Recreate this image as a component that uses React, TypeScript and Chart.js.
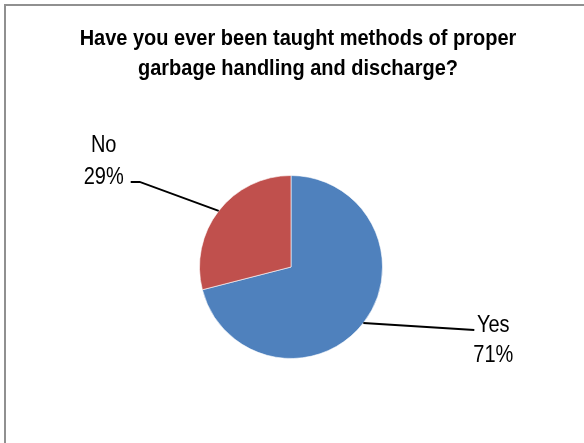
import React, { useEffect, useRef } from "react";
import { Chart, registerables } from "chart.js";

Chart.register(...registerables);

const TITLE_LINES = [
  "Have you ever been taught methods of proper",
  "garbage handling and discharge?",
];
const CATEGORIES = ["Yes", "No"];
const VALUES = [71, 29];
const COLORS = ["#4F81BD", "#C0504D"];

const FONT = '"Liberation Sans", Arial, sans-serif';

// label/leader styling per slice (layout only, relative to the slice's outer mid point)
const LEADERS = [
  { path: [[111, 7]], textX: 19, nameDy: 2, pctDy: 32 },
  { path: [[-79, -29], [-88, -29]], textX: -27, nameDy: -30, pctDy: 2 },
];

function tallText(ctx: any, text: string, x: number, y: number, sy: number) {
  ctx.save();
  ctx.translate(x, y);
  ctx.scale(1, sy);
  ctx.fillText(text, 0, 0);
  ctx.restore();
}

const decorPlugin = {
  id: "decor",
  afterDraw(chart: any) {
    const ctx = chart.ctx;
    ctx.save();
    // title
    ctx.fillStyle = "#000";
    ctx.font = `bold 20px ${FONT}`;
    ctx.textAlign = "center";
    ctx.textBaseline = "alphabetic";
    TITLE_LINES.forEach((t, i) => tallText(ctx, t, 298, 45 + i * 30, 1.1));

    // labels with leader lines
    const meta = chart.getDatasetMeta(0);
    const total = VALUES.reduce((a, b) => a + b, 0);
    meta.data.forEach((arc: any, i: number) => {
      const { x, y, startAngle, endAngle, outerRadius } = arc.getProps(
        ["x", "y", "startAngle", "endAngle", "outerRadius"],
        true
      );
      const mid = (startAngle + endAngle) / 2;
      const px = x + Math.cos(mid) * outerRadius;
      const py = y + Math.sin(mid) * outerRadius;
      const cfg = LEADERS[i];
      ctx.strokeStyle = "#000";
      ctx.lineWidth = 2;
      ctx.beginPath();
      ctx.moveTo(px, py);
      let ex = px,
        ey = py;
      cfg.path.forEach(([dx, dy]) => {
        ex = px + dx;
        ey = py + dy;
        ctx.lineTo(ex, ey);
      });
      ctx.stroke();
      ctx.font = `20px ${FONT}`;
      ctx.textAlign = "center";
      tallText(ctx, CATEGORIES[i], ex + cfg.textX, ey + cfg.nameDy, 1.15);
      tallText(
        ctx,
        Math.round((VALUES[i] / total) * 100) + "%",
        ex + cfg.textX,
        ey + cfg.pctDy,
        1.15
      );
    });
    ctx.restore();
  },
};

export default function App() {
  const ref = useRef<HTMLCanvasElement | null>(null);
  useEffect(() => {
    if (!ref.current) return;
    const chart = new Chart(ref.current, {
      type: "pie",
      data: {
        labels: CATEGORIES,
        datasets: [
          {
            data: VALUES,
            backgroundColor: COLORS,
            borderColor: "rgba(255,255,255,0.6)",
            borderWidth: 1,
          },
        ],
      },
      options: {
        responsive: false,
        animation: false,
        devicePixelRatio: 1,
        layout: { padding: { left: 199, right: 201, top: 175, bottom: 84 } },
        plugins: {
          legend: { display: false },
          title: { display: false },
          tooltip: { enabled: false },
        },
      },
      plugins: [decorPlugin],
    });
    return () => chart.destroy();
  }, []);
  return (
    <div
      style={{
        position: "absolute",
        left: 0,
        top: 0,
        width: 584,
        height: 443,
        overflow: "hidden",
        background: "#fff",
      }}
    >
      <div
        style={{
          position: "absolute",
          left: 4,
          top: 4,
          width: 640,
          height: 520,
          border: "2px solid #909090",
        }}
      />
      <canvas
        ref={ref}
        width={584}
        height={443}
        style={{ position: "absolute", left: 0, top: 0, width: 584, height: 443 }}
      />
    </div>
  );
}
